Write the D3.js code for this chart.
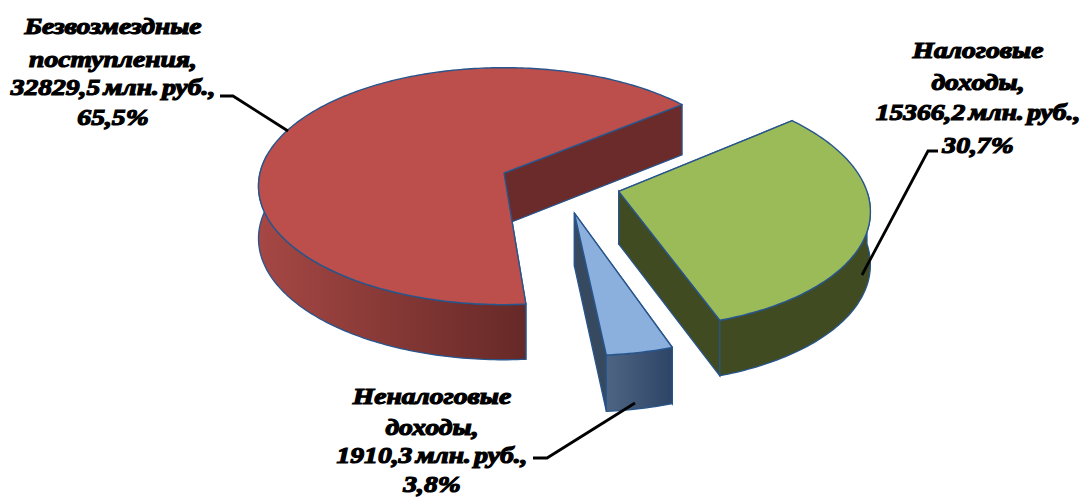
<!DOCTYPE html>
<html>
<head>
<meta charset="utf-8">
<script src="https://d3js.org/d3.v7.min.js"></script>
<style>
  html, body { margin: 0; padding: 0; background: #fff; }
  svg { display: block; }
  .lbl { font-family: "Liberation Serif", serif; font-weight: bold; font-style: italic; font-size: 23px; word-spacing: -3px; fill: #000; stroke: #000; stroke-width: 1.2px; }
</style>
</head>
<body>
<div id="chart"></div>
<script>
// data
var names = ["Налоговые доходы", "Неналоговые доходы", "Безвозмездные поступления"];
var values = [15366.2, 1910.3, 32829.5];
var percents = ["30,7%", "3,8%", "65,5%"];
var labelLines = [
  ["Налоговые", "доходы,", "15366,2 млн. руб.,", "30,7%"],
  ["Неналоговые", "доходы,", "1910,3 млн. руб.,", "3,8%"],
  ["Безвозмездные", "поступления,", "32829,5 млн. руб.,", "65,5%"]
];

var width = 1082, height = 498;
var cx = 504, cy = 173;
var persp = 0.111;   // how much the front of the disc grows
var depth = 52;      // wall height

var svg = d3.select("#chart").append("svg")
  .attr("width", width)
  .attr("height", height);

var defs = svg.append("defs");
function hGrad(id, x1, x2, c1, c2) {
  var g = defs.append("linearGradient").attr("id", id)
    .attr("gradientUnits", "userSpaceOnUse")
    .attr("x1", x1).attr("x2", x2).attr("y1", 0).attr("y2", 0);
  g.append("stop").attr("offset", 0).attr("stop-color", c1);
  g.append("stop").attr("offset", 1).attr("stop-color", c2);
}
hGrad("redWall", 262, 526, "#A54744", "#662927");
hGrad("blueWall", 604, 669, "#4F6683", "#2F4669");

var styles = [
  { top: "#9BBB59", outer: "#414B22", side: "#414B22", dx: 0.462, dv: 0.155 },
  { top: "#8BB0DD", outer: "url(#blueWall)", side: "#37495F", dx: 0.278, dv: 0.33 },
  { top: "#BC4F4C", outer: "url(#redWall)", side: "#6B2B2B", dx: 0, dv: 0 }
];

var xScale = d3.scaleLinear().domain([-1, 1]).range([-244, 244]);
var yScale = d3.scaleLinear().domain([-1, 1]).range([-117, 117]);

// ground plane -> screen, z is 0 on top of the disc and 1 at the bottom
function project(u, v, z) {
  var p = 1 / (1 - persp * v);
  return [cx + xScale(u) * p, cy + yScale(v) * p + z * depth * Math.sqrt(p)];
}

var startA = 51.3 * Math.PI / 180;
var pie = d3.pie().sort(null).value(d => d).startAngle(startA).endAngle(startA + 2 * Math.PI);
var arcs = pie(values);

var line = d3.line();

function rim(a, st, z) {
  return project(st.dx + Math.sin(a), st.dv - Math.cos(a), z);
}
function rimPoints(a0, a1, st, z) {
  var n = Math.max(2, Math.ceil((a1 - a0) * 60));
  return d3.range(n + 1).map(i => rim(a0 + (a1 - a0) * i / n, st, z));
}

var stroke = "#27558C";

// back to front: red, blue, green
[2, 1, 0].forEach(function(i) {
  var arc = arcs[i], st = styles[i];
  var a0 = arc.startAngle, a1 = arc.endAngle;
  var apexTop = project(st.dx, st.dv, 0), apexBot = project(st.dx, st.dv, 1);
  var g = svg.append("g");

  // radial walls
  [a0, a1].forEach(function(a) {
    g.append("path")
      .attr("d", line([apexTop, rim(a, st, 0), rim(a, st, 1), apexBot]) + "Z")
      .attr("fill", st.side)
      .attr("stroke", stroke)
      .attr("stroke-width", 1.3);
  });

  // outer wall, front facing part only
  var f0 = Math.max(a0, Math.PI * 0.5), f1 = Math.min(a1, Math.PI * 1.55);
  if (f1 > f0) {
    var pts = rimPoints(f0, f1, st, 0).concat(rimPoints(f0, f1, st, 1).reverse());
    g.append("path")
      .attr("d", line(pts) + "Z")
      .attr("fill", st.outer)
      .attr("stroke", stroke)
      .attr("stroke-width", 1.3);
  }

  // top face
  g.append("path")
    .attr("d", line([apexTop].concat(rimPoints(a0, a1, st, 0))) + "Z")
    .attr("fill", st.top)
    .attr("stroke", stroke)
    .attr("stroke-width", 1.4)
    .attr("stroke-linejoin", "round");
});

// leader lines
var leaders = [
  [[938, 151], [928, 151], [862, 275]],
  [[533, 458], [547, 458], [635, 403]],
  [[220, 96], [233, 96], [288, 131]]
];
svg.selectAll(".leader").data(leaders).enter().append("path")
  .attr("class", "leader")
  .attr("d", line)
  .attr("fill", "none")
  .attr("stroke", "#000")
  .attr("stroke-width", 2.8);

// labels, the original text is stretched sideways
var labelPos = [
  { x: 978, y: [58, 90, 120, 153] },
  { x: 432, y: [404, 435, 463, 492] },
  { x: 113, y: [34, 67, 95, 125] }
];
labelLines.forEach(function(lines, i) {
  lines.forEach(function(t, j) {
    svg.append("text")
      .attr("class", "lbl")
      .attr("transform", "translate(" + labelPos[i].x + "," + labelPos[i].y[j] + ") scale(1.2,1)")
      .attr("text-anchor", "middle")
      .text(t);
  });
});
</script>
</body>
</html>
